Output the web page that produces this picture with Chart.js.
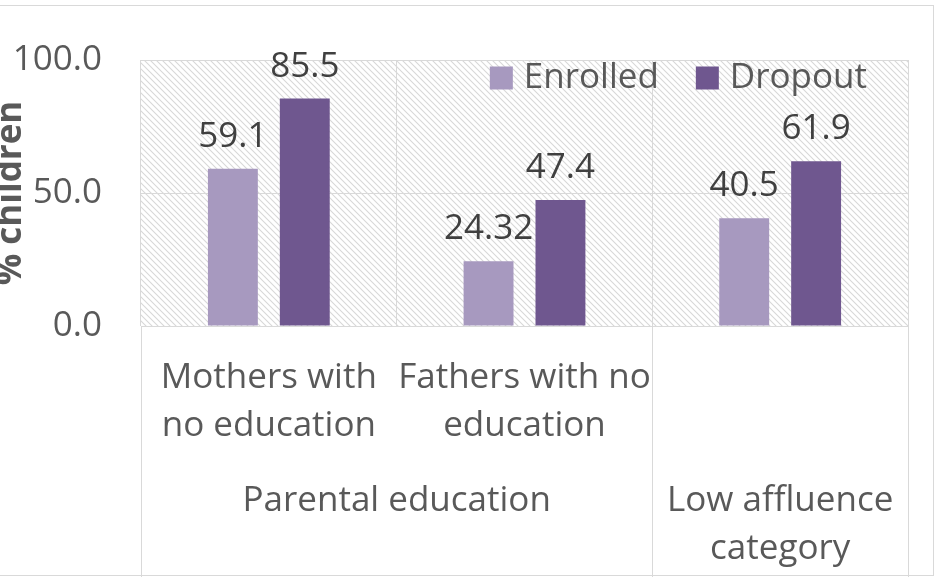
<!DOCTYPE html>
<html>
<head>
<meta charset="utf-8">
<script src="https://cdn.jsdelivr.net/npm/chart.js@4.4.1/dist/chart.umd.min.js"></script>
<style>
  html, body { margin: 0; padding: 0; background: #ffffff; }
  #wrap { width: 941px; height: 577px; }
</style>
</head>
<body>
<div id="wrap"><canvas id="c" width="941" height="577"></canvas></div>
<script>
// Category labels (first level) and the group labels drawn beneath them
const categories = [["Mothers with", "no education"], ["Fathers with no", "education"], ""];
const groupLabels = [["Parental education"], ["Low affluence", "category"]];
const groupSpans = [[0, 1], [2, 2]];

// Series values (% children)
const seriesNames = ["Enrolled", "Dropout"];
const enrolled = [59.1, 24.32, 40.5];
const dropout = [85.5, 47.4, 61.9];
const valueLabels = [["59.1", "24.32", "40.5"], ["85.5", "47.4", "61.9"]];

// Value axis
const yTicks = [0, 50, 100];
const yTitle = "% children";

const FONT = "'Open Sans', Lato, sans-serif";
const SIZE = 35;
const TEXT = "#595959";
const LABEL = "#404040";
const GRID = "#d9d9d9";

function hatchPattern(ctx) {
  const n = 6;
  const p = document.createElement("canvas");
  p.width = n; p.height = n;
  const g = p.getContext("2d");
  g.fillStyle = "#ffffff";
  g.fillRect(0, 0, n, n);
  g.strokeStyle = "#d8d8d8";
  g.lineWidth = 1.1;
  g.beginPath();
  g.moveTo(-1, -1); g.lineTo(n + 1, n + 1);
  g.moveTo(-n - 1, -1); g.lineTo(1, n + 1);
  g.moveTo(n - 1, -1); g.lineTo(2 * n + 1, n + 1);
  g.stroke();
  return ctx.createPattern(p, "repeat");
}

const decor = {
  id: "decor",
  beforeDraw(chart) {
    const { ctx, chartArea: a } = chart;
    ctx.save();
    ctx.fillStyle = "#ffffff";
    ctx.fillRect(0, 0, chart.width, chart.height);
    // outer frame
    ctx.strokeStyle = GRID;
    ctx.lineWidth = 1;
    ctx.strokeRect(-5, 5.5, 938.5, 570);
    // hatched plot area
    ctx.fillStyle = hatchPattern(ctx);
    ctx.fillRect(a.left, a.top, a.right - a.left, a.bottom - a.top);
    ctx.restore();
  },
  afterDraw(chart) {
    const { ctx, chartArea: a } = chart;
    const xs = chart.scales.x;
    ctx.save();
    // dividers in the category label area
    const step = xs.getPixelForValue(1) - xs.getPixelForValue(0);
    const dividers = [xs.left, xs.getPixelForValue(1) + step / 2, xs.right];
    ctx.strokeStyle = GRID;
    ctx.lineWidth = 1;
    dividers.forEach(x => {
      const px = Math.round(x) + 0.5;
      ctx.beginPath();
      ctx.moveTo(px, a.bottom);
      ctx.lineTo(px, chart.height);
      ctx.stroke();
    });

    // second-level group labels
    ctx.fillStyle = TEXT;
    ctx.font = SIZE + "px " + FONT;
    ctx.textAlign = "center";
    ctx.textBaseline = "middle";
    groupLabels.forEach((lines, i) => {
      const [s, e] = groupSpans[i];
      const cx = (xs.getPixelForValue(s) + xs.getPixelForValue(e)) / 2;
      lines.forEach((t, j) => ctx.fillText(t, cx, 501 + j * 48));
    });

    // value labels above each bar
    ctx.fillStyle = LABEL;
    ctx.textBaseline = "alphabetic";
    chart.data.datasets.forEach((ds, di) => {
      chart.getDatasetMeta(di).data.forEach((bar, i) => {
        ctx.fillText(valueLabels[di][i], bar.x, bar.y - 22);
      });
    });

    // legend inside the plot area, top right
    ctx.font = SIZE + "px " + FONT;
    ctx.textAlign = "left";
    ctx.textBaseline = "middle";
    const box = 23, gapText = 11, gapItem = 37;
    const widths = chart.data.datasets.map(ds => ctx.measureText(ds.label).width);
    const total = widths.reduce((s, w) => s + box + gapText + w, 0) + gapItem * (widths.length - 1);
    let x = a.right - 41 - total;
    const cy = a.top + 18;
    chart.data.datasets.forEach((ds, di) => {
      ctx.fillStyle = ds.backgroundColor;
      ctx.fillRect(x, cy - box / 2, box, box);
      ctx.fillStyle = TEXT;
      ctx.fillText(ds.label, x + box + gapText, cy);
      x += box + gapText + widths[di] + gapItem;
    });

    // value axis title
    ctx.translate(21, (a.top + a.bottom) / 2);
    ctx.rotate(-Math.PI / 2);
    ctx.font = "bold " + SIZE + "px " + FONT;
    ctx.textAlign = "center";
    ctx.textBaseline = "alphabetic";
    ctx.fillStyle = TEXT;
    ctx.fillText(yTitle, 0, 0);
    ctx.restore();
  }
};

new Chart(document.getElementById("c"), {
  type: "bar",
  data: {
    labels: categories,
    datasets: [
      { label: seriesNames[0], data: enrolled, backgroundColor: "#a799bf",
        categoryPercentage: 0.5625, barPercentage: 0.694 },
      { label: seriesNames[1], data: dropout, backgroundColor: "#6f578f",
        categoryPercentage: 0.5625, barPercentage: 0.694 }
    ]
  },
  options: {
    responsive: false,
    animation: false,
    devicePixelRatio: 1,
    layout: { padding: { top: 54, right: 33, bottom: 0, left: 0 } },
    plugins: { legend: { display: false }, tooltip: { enabled: false } },
    scales: {
      x: {
        grid: { color: GRID, drawTicks: false, offset: true },
        border: { color: GRID },
        ticks: { color: TEXT, font: { family: FONT, size: SIZE, lineHeight: 1.37 }, padding: 28, maxRotation: 0, autoSkip: false },
        afterFit(s) { s.height = 251; }
      },
      y: {
        min: 0, max: 100,
        afterBuildTicks(s) { s.ticks = yTicks.map(v => ({ value: v })); },
        grid: { color: GRID, drawTicks: false },
        border: { display: false },
        ticks: { color: TEXT, font: { family: FONT, size: SIZE }, padding: 39,
                 callback: v => Number(v).toFixed(1) },
        afterFit(s) { s.width = 141; }
      }
    }
  },
  plugins: [decor]
});
</script>
</body>
</html>
